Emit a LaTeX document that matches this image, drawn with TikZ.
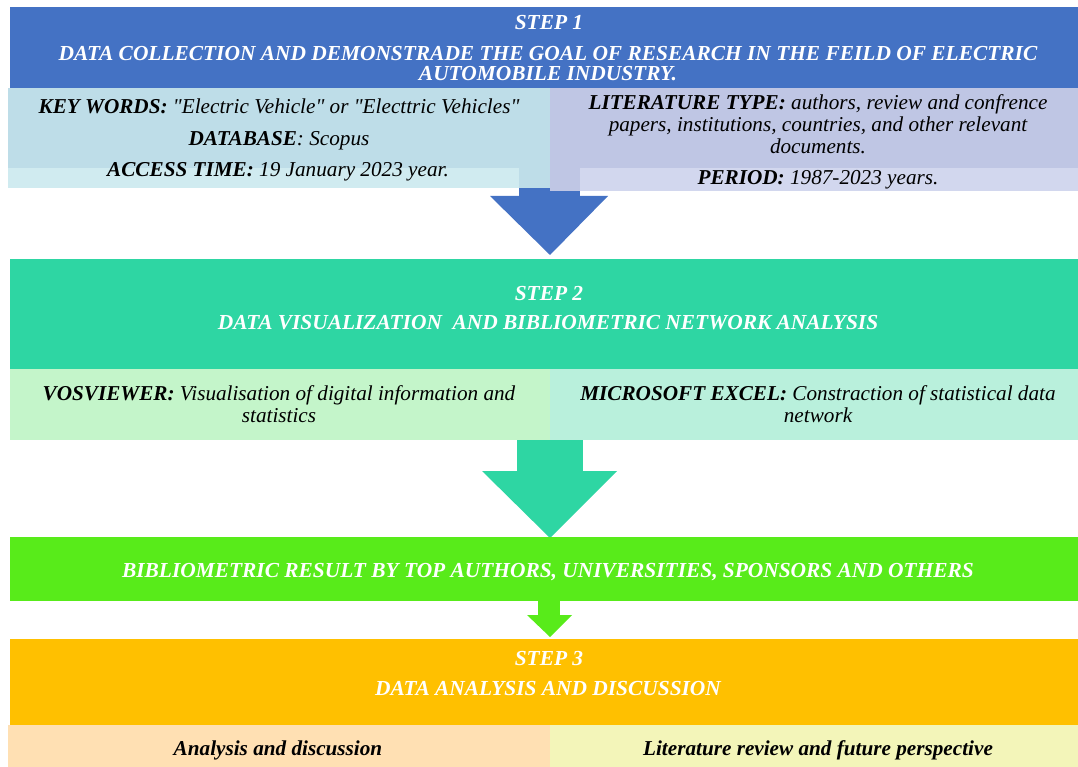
\documentclass[tikz,border=0pt]{standalone}
\usepackage{fontspec}
\setmainfont{Liberation Serif}
\definecolor{sblue}{HTML}{4472C4}
\definecolor{kbA}{HTML}{BEDDE8}
\definecolor{kbB}{HTML}{D0EBF0}
\definecolor{ltA}{HTML}{BFC6E4}
\definecolor{ltB}{HTML}{D2D7EE}
\definecolor{steal}{HTML}{2ED6A3}
\definecolor{vosc}{HTML}{C4F5CA}
\definecolor{msc}{HTML}{B9F0DC}
\definecolor{sgreen}{HTML}{58EB1A}
\definecolor{sorange}{HTML}{FFC000}
\definecolor{anc}{HTML}{FFE0B3}
\definecolor{lrc}{HTML}{F3F5B9}
\begin{document}
\begin{tikzpicture}[x=1pt,y=-1pt,
  box/.style={draw=none,inner sep=0pt,outer sep=0pt,anchor=north west},
  wt/.style={text=white,font=\fontsize{21.4}{22}\selectfont\bfseries\itshape,inner sep=0pt,anchor=base},
  bt/.style={text=black,font=\fontsize{21.2}{22}\selectfont\itshape,inner sep=0pt,anchor=base}]
\useasboundingbox (0,0) rectangle (1078,767);
% Step 1
\node[box,fill=sblue,minimum width=1068pt,minimum height=161pt] (s1) at (10,7) {};
\node[box,fill=kbA,minimum width=542pt,minimum height=100pt] (kw) at (8,88) {};
\node[box,fill=kbB,minimum width=511pt,minimum height=20pt] (kwb) at (8,168) {};
\node[box,fill=ltA,minimum width=528pt,minimum height=103pt] (lt) at (550,88) {};
\node[box,fill=ltB,minimum width=498pt,minimum height=23pt] (ltb) at (580,168) {};
% blue arrow
\fill[sblue] (519,188) rectangle (550,196);
\fill[sblue] (550,191) rectangle (580,196);
\fill[sblue] (490,196) -- (608,196) -- (550,255) -- cycle;
% Step 2
\node[box,fill=steal,minimum width=1068pt,minimum height=110pt] (s2) at (10,259) {};
\node[box,fill=vosc,minimum width=540pt,minimum height=71pt] (vos) at (10,369) {};
\node[box,fill=msc,minimum width=528pt,minimum height=71pt] (mse) at (550,369) {};
% teal arrow
\fill[steal] (517,440) rectangle (583,471);
\fill[steal] (482,471) -- (617,471) -- (550,538) -- cycle;
% Bibliometric
\node[box,fill=sgreen,minimum width=1068pt,minimum height=64pt] (bib) at (10,537) {};
% green arrow
\fill[sgreen] (538,601) rectangle (560,615);
\fill[sgreen] (527,615) -- (572,615) -- (550,637) -- cycle;
% Step 3
\node[box,fill=sorange,minimum width=1068pt,minimum height=86pt] (s3) at (10,639) {};
\node[box,fill=anc,minimum width=542pt,minimum height=42pt] (an) at (8,725) {};
\node[box,fill=lrc,minimum width=528pt,minimum height=42pt] (lr) at (550,725) {};
% texts
\node[wt] (t1a) at (549,30) {STEP 1};
\node[wt] (t1b) at (548,61) {DATA COLLECTION AND DEMONSTRADE THE GOAL OF RESEARCH IN THE FEILD OF ELECTRIC};
\node[wt] (t1c) at (548,81) {AUTOMOBILE INDUSTRY.};
\node[bt] (k1) at (279,114) {\textbf{KEY WORDS:} \textquotedbl Electric Vehicle\textquotedbl{} or \textquotedbl Electtric Vehicles\textquotedbl};
\node[bt] (k2) at (279,146) {\textbf{DATABASE}: Scopus};
\node[bt] (k3) at (278,177) {\textbf{ACCESS TIME:} 19 January 2023 year.};
\node[bt] (l1) at (818,110) {\textbf{LITERATURE TYPE:} authors, review and confrence};
\node[bt] (l2) at (818,132) {papers, institutions, countries, and other relevant};
\node[bt] (l3) at (818,154) {documents.};
\node[bt] (l4) at (818,185) {\textbf{PERIOD:} 1987-2023 years.};
\node[wt] (t2a) at (549,300) {STEP 2};
\node[wt] (t2b) at (548,329) {DATA VISUALIZATION\ \ AND BIBLIOMETRIC NETWORK ANALYSIS};
\node[bt] (v1) at (279,400) {\textbf{VOSVIEWER:} Visualisation of digital information and};
\node[bt] (v2) at (279,422) {statistics};
\node[bt] (m1) at (818,400) {\textbf{MICROSOFT EXCEL:} Constraction of statistical data};
\node[bt] (m2) at (818,422) {network};
\node[wt] (tb) at (548,577) {BIBLIOMETRIC RESULT BY TOP AUTHORS, UNIVERSITIES, SPONSORS AND OTHERS};
\node[wt] (t3a) at (549,665) {STEP 3};
\node[wt] (t3b) at (548,695) {DATA ANALYSIS AND DISCUSSION};
\node[bt] (a1) at (278,755) {\textbf{Analysis and discussion}};
\node[bt] (a2) at (818,755) {\textbf{Literature review and future perspective}};
\end{tikzpicture}
\end{document}
